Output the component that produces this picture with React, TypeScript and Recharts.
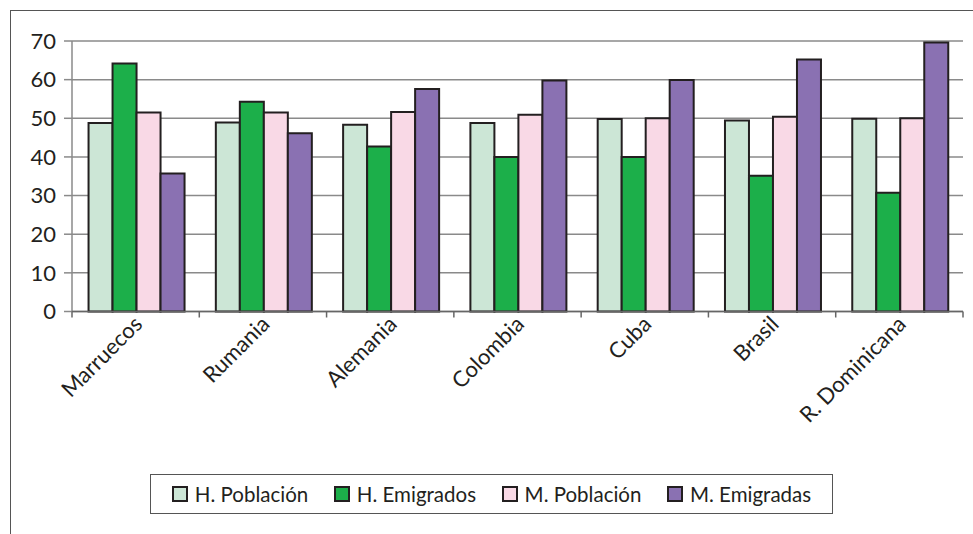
import React from 'react';
import { BarChart, Bar, XAxis, YAxis, CartesianGrid } from 'recharts';

const categories = ['Marruecos', 'Rumania', 'Alemania', 'Colombia', 'Cuba', 'Brasil', 'R. Dominicana'];
const hPoblacion = [48.8, 48.9, 48.3, 48.8, 49.8, 49.4, 49.9];
const hEmigrados = [64.2, 54.3, 42.7, 40.0, 40.0, 35.1, 30.7];
const mPoblacion = [51.5, 51.5, 51.6, 50.9, 50.0, 50.4, 50.0];
const mEmigradas = [35.7, 46.1, 57.6, 59.8, 59.9, 65.2, 69.6];
const yTicks = [0, 10, 20, 30, 40, 50, 60, 70];

const series = [
  { key: 'hPob', name: 'H. Población', fill: '#cce6d6' },
  { key: 'hEmi', name: 'H. Emigrados', fill: '#1caf4a' },
  { key: 'mPob', name: 'M. Población', fill: '#f9d9e6' },
  { key: 'mEmi', name: 'M. Emigradas', fill: '#8a71b2' },
];

const data = categories.map((name, i) => ({
  name,
  hPob: hPoblacion[i],
  hEmi: hEmigrados[i],
  mPob: mPoblacion[i],
  mEmi: mEmigradas[i],
}));

const FONT = 'Lato, "Open Sans", sans-serif';
const HALF_BAND = (963 - 72) / categories.length / 2;

function CategoryTick(props: any) {
  const { x, y, payload, index } = props;
  const last = index === categories.length - 1;
  return (
    <g>
      <line x1={x - HALF_BAND} y1={y - 8} x2={x - HALF_BAND} y2={y - 2} stroke="#666" strokeWidth={1.5} />
      {last && (
        <line x1={x + HALF_BAND} y1={y - 8} x2={x + HALF_BAND} y2={y - 2} stroke="#666" strokeWidth={1.5} />
      )}
      <text
        x={x + 8}
        y={y + 6}
        textAnchor="end"
        transform={`rotate(-45, ${x + 8}, ${y + 6})`}
        fontSize={22}
        fontFamily={FONT}
        fill="#231f20"
      >
        {payload.value}
      </text>
    </g>
  );
}

function LegendBox() {
  return (
    <div
      style={{
        position: 'absolute',
        left: 150,
        top: 474,
        width: 683,
        height: 40,
        display: 'flex',
        alignItems: 'center',
        justifyContent: 'space-around',
        border: '1px solid #555',
        padding: '0 8px',
        boxSizing: 'border-box',
        fontFamily: FONT,
        fontSize: 20.5,
        color: '#231f20',
      }}
    >
      {series.map((s) => (
        <span key={s.key} style={{ display: 'flex', alignItems: 'center' }}>
          <span
            style={{
              display: 'inline-block',
              width: 12,
              height: 12,
              background: s.fill,
              border: '2px solid #231f20',
              marginRight: 7,
            }}
          />
          {s.name}
        </span>
      ))}
    </div>
  );
}

export default function App() {
  return (
    <div style={{ position: 'fixed', left: 0, top: 0, width: 973, height: 534, background: '#fff' }}>
      <div
        style={{
          position: 'absolute',
          left: 10,
          top: 10,
          width: 980,
          height: 540,
          borderLeft: '1px solid #555',
          borderTop: '1px solid #555',
        }}
      />
      <BarChart
        width={973}
        height={534}
        data={data}
        margin={{ top: 41, right: 10, left: 0, bottom: 0 }}
        barCategoryGap="13%"
        barGap={0}
      >
        <CartesianGrid vertical={false} stroke="#8a8a8a" strokeWidth={1.5} />
        <YAxis
          width={72}
          domain={[0, 70]}
          ticks={yTicks}
          interval={0}
          axisLine={{ stroke: '#8a8a8a', strokeWidth: 1.5 }}
          tickLine={{ stroke: '#8a8a8a', strokeWidth: 1.5 }}
          tickSize={8}
          tick={{ fontSize: 22, fontFamily: FONT, fill: '#231f20' }}
          tickMargin={8}
        />
        <XAxis
          dataKey="name"
          height={222.5}
          interval={0}
          axisLine={{ stroke: '#666', strokeWidth: 1.5 }}
          tickLine={false}
          tick={<CategoryTick />}
        />
        {series.map((s) => (
          <Bar
            key={s.key}
            dataKey={s.key}
            name={s.name}
            fill={s.fill}
            stroke="#231f20"
            strokeWidth={2}
            isAnimationActive={false}
          />
        ))}
      </BarChart>
      <LegendBox />
    </div>
  );
}
